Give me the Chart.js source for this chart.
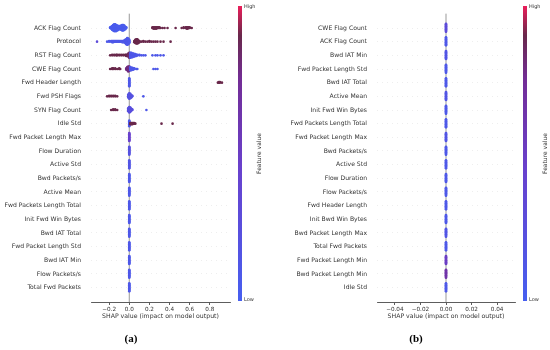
<!DOCTYPE html>
<html>
<head>
<meta charset="utf-8">
<script src="https://cdn.jsdelivr.net/npm/chart.js@4.4.1/dist/chart.umd.min.js"></script>
<style>
html, body { margin: 0; padding: 0; background: #fff; width: 550px; height: 350px; overflow: hidden; }
.panel { position: absolute; top: 0; width: 275px; height: 350px; }
#panelA { left: 0; }
#panelB { left: 275px; }
.cap { position: absolute; top: 332px; width: 40px; text-align: center; font: bold 11px "Liberation Serif", serif; color: #000; }
</style>
</head>
<body>
<div class="panel" id="panelA"><canvas id="chartA" width="275" height="350"></canvas></div>
<div class="panel" id="panelB"><canvas id="chartB" width="275" height="350"></canvas></div>
<div class="cap" style="left:111px">(a)</div>
<div class="cap" style="left:396px">(b)</div>
<script>
// ---------- dados: features e pontos [valor SHAP, valor da feature 0..1, quantidade] ----------
const featuresA = ['ACK Flag Count', 'Protocol', 'RST Flag Count', 'CWE Flag Count', 'Fwd Header Length',
    'Fwd PSH Flags', 'SYN Flag Count', 'Idle Std', 'Fwd Packet Length Max', 'Flow Duration', 'Active Std',
    'Bwd Packets/s', 'Active Mean', 'Fwd Packets Length Total', 'Init Fwd Win Bytes', 'Bwd IAT Total',
    'Fwd Packet Length Std', 'Bwd IAT Min', 'Flow Packets/s', 'Total Fwd Packets'];

const featuresB = ['CWE Flag Count', 'ACK Flag Count', 'Bwd IAT Min', 'Fwd Packet Length Std', 'Bwd IAT Total',
    'Active Mean', 'Init Fwd Win Bytes', 'Fwd Packets Length Total', 'Fwd Packet Length Max', 'Bwd Packets/s',
    'Active Std', 'Flow Duration', 'Flow Packets/s', 'Fwd Header Length', 'Init Bwd Win Bytes',
    'Bwd Packet Length Max', 'Total Fwd Packets', 'Fwd Packet Length Min', 'Bwd Packet Length Min', 'Idle Std'];

const ticksA = [-0.2, 0.0, 0.2, 0.4, 0.6, 0.8];
const ticksB = [-0.04, -0.02, 0.0, 0.02, 0.04];

const ackFlagA = [[-0.19,0.05,2],[-0.18,0.05,4],[-0.17,0.05,7],[-0.16,0.05,10],[-0.15,0.05,12],[-0.14,0.05,12],
    [-0.13,0.05,11],[-0.12,0.05,9],[-0.11,0.05,7],[-0.10,0.05,6],[-0.09,0.05,6],[-0.08,0.05,8],[-0.07,0.05,10],
    [-0.06,0.05,10],[-0.05,0.05,8],[-0.04,0.05,5],[-0.03,0.05,2],
    [0.23,0.9,2],[0.24,0.9,3],[0.25,0.9,3],[0.26,0.9,3],[0.27,0.9,3],[0.28,0.9,2],[0.29,0.9,2],[0.30,0.9,2],
    [0.31,0.9,1],[0.33,0.9,1],[0.35,0.9,1],[0.38,0.9,1],[0.46,0.9,1],[0.52,0.9,1],[0.54,0.9,2],[0.56,0.9,2],
    [0.57,0.9,3],[0.58,0.9,3],[0.59,0.9,2],[0.60,0.9,2],[0.62,0.9,1]];
const protocolA = [[-0.32,0.3,1],[-0.22,0.1,1],[-0.20,0.1,2],[-0.18,0.1,2],[-0.17,0.1,3],[-0.16,0.1,3],
    [-0.15,0.1,2],[-0.14,0.1,2],[-0.13,0.1,2],[-0.12,0.1,2],[-0.11,0.1,2],[-0.10,0.1,2],[-0.09,0.1,2],
    [-0.08,0.1,2],[-0.07,0.1,3],[-0.06,0.1,3],[-0.05,0.1,4],[-0.04,0.1,6],[-0.03,0.1,9],[-0.02,0.1,12],
    [-0.01,0.1,10],[0.00,0.1,6],
    [0.05,0.9,3],[0.06,0.9,6],[0.07,0.9,8],[0.08,0.9,8],[0.09,0.9,5],[0.10,0.9,3],[0.12,0.9,1],[0.14,0.9,2],
    [0.16,0.9,1],[0.18,0.9,1],[0.20,0.9,2],[0.22,0.9,1],[0.24,0.9,1],[0.26,0.9,1],[0.28,0.9,1],[0.31,0.9,1],
    [0.34,0.9,1],[0.41,0.9,1]];
const rstFlagA = [[-0.19,0.9,1],[-0.17,0.9,2],[-0.15,0.9,2],[-0.13,0.9,2],[-0.12,0.9,2],[-0.10,0.9,2],
    [-0.08,0.9,2],[-0.06,0.9,2],[-0.04,0.9,2],[-0.03,0.9,3],[-0.02,0.9,3],[-0.01,0.85,6],[0.00,0.85,9],
    [0.01,0.1,9],[0.02,0.1,8],[0.03,0.1,7],[0.04,0.1,6],[0.05,0.1,5],[0.06,0.1,4],[0.07,0.1,3],[0.08,0.1,2],
    [0.10,0.1,2],[0.12,0.1,1],[0.14,0.1,1],[0.16,0.1,1],[0.23,0.1,1],[0.26,0.1,1],[0.28,0.1,1],[0.31,0.1,1],
    [0.34,0.1,1]];
const cweFlagA = [[-0.19,0.9,1],[-0.17,0.9,2],[-0.16,0.9,2],[-0.14,0.9,2],[-0.12,0.9,1],[-0.10,0.9,2],
    [-0.09,0.9,1],[-0.03,0.8,3],[-0.02,0.8,6],[-0.01,0.8,9],[0.00,0.8,8],[0.01,0.1,6],[0.02,0.1,5],
    [0.03,0.1,4],[0.04,0.1,3],[0.05,0.1,2],[0.07,0.1,1],[0.08,0.1,1],[0.24,0.1,1],[0.26,0.1,1],[0.28,0.1,1]];
const fwdHeaderA = [[0.00,0.1,14],[0.88,0.9,1],[0.89,0.9,2],[0.90,0.9,2],[0.92,0.9,1]];
const fwdPshA = [[-0.22,0.9,1],[-0.20,0.9,2],[-0.18,0.9,2],[-0.16,0.9,2],[-0.14,0.9,2],[-0.12,0.9,1],
    [-0.01,0.2,6],[0.00,0.2,10],[0.01,0.2,8],[0.02,0.2,5],[0.03,0.2,2],[0.14,0.1,1]];
const synFlagA = [[-0.18,0.9,1],[-0.16,0.9,2],[-0.14,0.9,2],[-0.12,0.9,1],[-0.01,0.25,6],[0.00,0.25,10],
    [0.01,0.25,8],[0.02,0.25,4],[0.03,0.25,2],[0.17,0.1,1]];
const idleStdA = [[0.00,0.1,10],[0.01,0.9,3],[0.02,0.9,3],[0.03,0.9,3],[0.04,0.9,2],[0.05,0.9,2],
    [0.06,0.9,1],[0.32,0.9,1],[0.43,0.9,1]];
const zeroLowA = [0.45, 0.2, 0.15, 0.1, 0.1, 0.1, 0.1, 0.1, 0.1, 0.1, 0.1, 0.1];

const zeroLowB = [0.3, 0.1, 0.15, 0.1, 0.1, 0.15, 0.1, 0.1, 0.15, 0.1, 0.1, 0.1, 0.1, 0.1, 0.1, 0.15,
    0.1, 0.5, 0.65, 0.1];

const swarmA = [ackFlagA, protocolA, rstFlagA, cweFlagA, fwdHeaderA, fwdPshA, synFlagA, idleStdA]
    .concat(zeroLowA.map(fv => [[0.00, fv, 14]]));
const swarmB = zeroLowB.map(fv => [[0.00, fv, 14]]);

// ---------- cores ----------
const colorStops = [
    [0.00, [70, 95, 240]],
    [0.45, [105, 65, 205]],
    [0.75, [115, 45, 150]],
    [0.90, [105, 40, 75]],
    [1.00, [235, 30, 90]]
];

function featureColor(v) {
    for (let i = 1; i < colorStops.length; i++) {
        const [p1, c1] = colorStops[i];
        const [p0, c0] = colorStops[i - 1];
        if (v <= p1) {
            const t = (v - p0) / (p1 - p0);
            const c = c0.map((c, j) => Math.round(c + (c1[j] - c) * t));
            return 'rgb(' + c.join(',') + ')';
        }
    }
    return 'rgb(' + colorStops[colorStops.length - 1][1].join(',') + ')';
}

const SWARM_STEP = 0.045;

function montarPontos(swarm) {
    const pts = [];
    const cols = [];
    swarm.forEach((row, i) => {
        row.forEach(([x, fv, n]) => {
            for (let k = 0; k < n; k++) {
                const off = (k % 2 ? -1 : 1) * Math.ceil(k / 2) * SWARM_STEP;
                pts.push({ x: x, y: i + off });
                cols.push(featureColor(fv));
            }
        });
    });
    return { pts, cols };
}

// ---------- plugins ----------
const zeroLine = {
    id: 'zeroLine',
    beforeDatasetsDraw(chart) {
        const { ctx, chartArea } = chart;
        const x = chart.scales.x.getPixelForValue(0);
        ctx.save();
        ctx.strokeStyle = '#999';
        ctx.lineWidth = 1;
        ctx.beginPath();
        ctx.moveTo(x, chartArea.top);
        ctx.lineTo(x, chartArea.bottom);
        ctx.stroke();
        ctx.restore();
    }
};

const colorBar = {
    id: 'colorBar',
    afterDraw(chart, args, opts) {
        const ctx = chart.ctx;
        const top = 6, bottom = 301, x = opts.x, w = 4;
        const grad = ctx.createLinearGradient(0, bottom, 0, top);
        colorStops.forEach(([p, c]) => grad.addColorStop(p, 'rgb(' + c.join(',') + ')'));
        ctx.save();
        ctx.fillStyle = grad;
        ctx.fillRect(x, top, w, bottom - top);
        ctx.fillStyle = '#333';
        ctx.font = '5px "DejaVu Sans"';
        ctx.textBaseline = 'middle';
        ctx.textAlign = 'left';
        ctx.fillText('High', x + w + 2, top + 1);
        ctx.fillText('Low', x + w + 2, bottom - 1);
        ctx.font = '6px "DejaVu Sans"';
        ctx.translate(opts.labelX, (top + bottom) / 2);
        ctx.rotate(-Math.PI / 2);
        ctx.textAlign = 'center';
        ctx.fillText('Feature value', 0, 0);
        ctx.restore();
    }
};

// ---------- gráficos ----------
function criarGrafico(canvasId, features, swarm, xMin, xMax, xTicks, decimais, yWidth, padRight, barX, labelX) {
    const { pts, cols } = montarPontos(swarm);
    return new Chart(document.getElementById(canvasId).getContext('2d'), {
        type: 'scatter',
        data: {
            datasets: [{
                data: pts,
                backgroundColor: cols,
                borderWidth: 0,
                pointRadius: 1.3,
                pointHoverRadius: 1.3
            }]
        },
        plugins: [zeroLine, colorBar],
        options: {
            responsive: false,
            animation: false,
            devicePixelRatio: 1,
            layout: { padding: { top: 5, right: padRight, left: 0, bottom: 0 } },
            plugins: {
                legend: { display: false },
                tooltip: { enabled: false },
                colorBar: { x: barX, labelX: labelX }
            },
            scales: {
                x: {
                    type: 'linear',
                    min: xMin,
                    max: xMax,
                    afterBuildTicks: s => { s.ticks = xTicks.map(v => ({ value: v })); },
                    afterFit: s => { s.height = 48; },
                    grid: { display: true, drawOnChartArea: false, drawTicks: true, tickLength: 3, color: '#333', lineWidth: 0.8 },
                    border: { display: true, color: '#333', width: 0.8 },
                    ticks: {
                        padding: 1,
                        maxRotation: 0,
                        autoSkip: false,
                        color: '#333',
                        font: { size: 5.7, family: 'DejaVu Sans' },
                        callback: v => v.toFixed(decimais).replace('-', '\u2212')
                    },
                    title: {
                        display: true,
                        text: 'SHAP value (impact on model output)',
                        color: '#333',
                        font: { size: 6.2, family: 'DejaVu Sans' },
                        padding: { top: 0, bottom: 30 }
                    }
                },
                y: {
                    type: 'linear',
                    reverse: true,
                    min: -1.05,
                    max: features.length + 0.05,
                    afterBuildTicks: s => { s.ticks = features.map((_, i) => ({ value: i })); },
                    afterFit: s => { s.width = yWidth; },
                    grid: { display: true, drawTicks: false, color: '#ddd', lineWidth: 0.5 },
                    border: { display: false, dash: [1, 4] },
                    ticks: {
                        padding: 10,
                        autoSkip: false,
                        color: '#333',
                        font: { size: 6.1, family: 'DejaVu Sans' },
                        callback: v => features[v]
                    }
                }
            }
        }
    });
}

criarGrafico('chartA', featuresA, swarmA, -0.38, 1.0, ticksA, 1, 91, 45, 238, 259);
criarGrafico('chartB', featuresB, swarmB, -0.054, 0.054, ticksB, 2, 102, 35, 248, 270);
</script>
</body>
</html>
